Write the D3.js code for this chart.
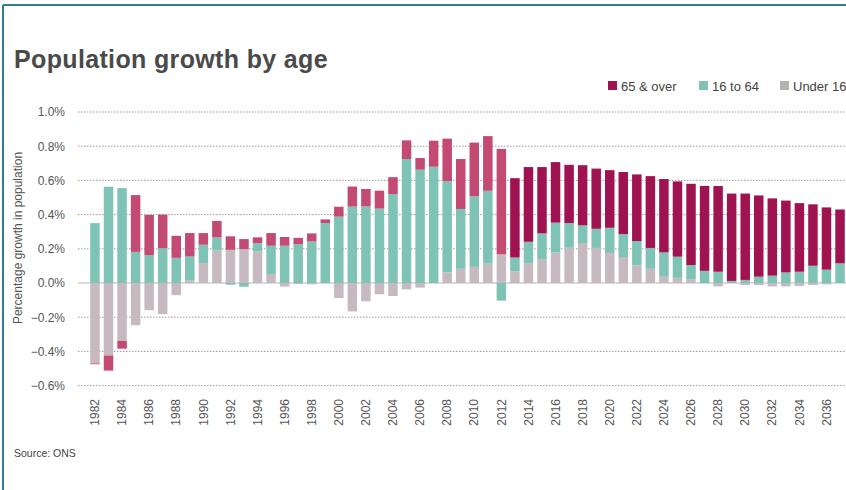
<!DOCTYPE html>
<html>
<head>
<meta charset="utf-8">
<script src="https://cdn.jsdelivr.net/npm/d3@7/dist/d3.min.js"></script>
<style>
  html, body { margin: 0; padding: 0; background: #fff; }
  svg { display: block; font-family: "Liberation Sans", Arial, sans-serif; }
</style>
</head>
<body>
<svg id="chart" width="846" height="490"></svg>
<script>
// Annual population growth (%) by age group, 1982–2037 (2013 onward projected)
const years = d3.range(1982, 2038);
const under16 = [
  -0.47, -0.424, -0.339, -0.247, -0.159, -0.182, -0.071, 0.015, 0.116, 0.19,
  0.194, 0.198, 0.184, 0.053, -0.021, -0.006, -0.008, 0, -0.088, -0.166,
  -0.107, -0.066, -0.076, -0.037, -0.027, 0, 0.062, 0.083, 0.094, 0.113,
  0.168, 0.068, 0.116, 0.14, 0.178, 0.206, 0.234, 0.205, 0.176, 0.152,
  0.103, 0.083, 0.037, 0.03, 0.02, 0, -0.02, 0, -0.012, -0.012,
  -0.02, -0.02, -0.018, -0.012, -0.008, 0
];
const age16to64 = [
  0.35, 0.563, 0.555, 0.182, 0.163, 0.204, 0.147, 0.14, 0.108, 0.077,
  -0.01, -0.022, 0.049, 0.165, 0.218, 0.227, 0.244, 0.351, 0.388, 0.447,
  0.448, 0.435, 0.52, 0.725, 0.663, 0.68, 0.533, 0.35, 0.413, 0.426,
  -0.103, 0.081, 0.125, 0.15, 0.175, 0.145, 0.103, 0.112, 0.147, 0.134,
  0.142, 0.122, 0.142, 0.124, 0.085, 0.071, 0.066, 0.012, 0.018, 0.037,
  0.043, 0.062, 0.066, 0.101, 0.078, 0.115
];
const over65 = [
  -0.005, -0.088, -0.045, 0.332, 0.235, 0.196, 0.129, 0.137, 0.068, 0.096,
  0.079, 0.059, 0.034, 0.074, 0.051, 0.037, 0.046, 0.021, 0.058, 0.117,
  0.102, 0.105, 0.099, 0.109, 0.068, 0.152, 0.249, 0.292, 0.314, 0.32,
  0.616, 0.464, 0.437, 0.388, 0.354, 0.34, 0.352, 0.352, 0.337, 0.363,
  0.39, 0.42, 0.429, 0.44, 0.475, 0.497, 0.501, 0.511, 0.505, 0.475,
  0.452, 0.42, 0.401, 0.359, 0.364, 0.315
];
const firstProjectedYear = 2013;
const yTicks = [-0.6, -0.4, -0.2, 0, 0.2, 0.4, 0.6, 0.8, 1.0];
const xTickYears = d3.range(1982, 2037, 2);

const seriesKeys = ["under16", "age16to64", "over65"];
const legendItems = [
  { key: "over65", label: "65 & over" },
  { key: "age16to64", label: "16 to 64" },
  { key: "under16", label: "Under 16" }
];
const colors = {
  under16: "#c6b9bf",
  age16to64: "#7fc3b6",
  over65: "#c24a73",
  over65Projected: "#9e1350"
};
const legendColors = { over65: "#9e1350", age16to64: "#7fc3b6", under16: "#b3b3b3" };

const rows = years.map((yr, i) => ({
  year: yr, under16: under16[i], age16to64: age16to64[i], over65: over65[i]
}));

const svg = d3.select("#chart");
const W = 846, H = 490;

// frame
svg.append("line").attr("x1", 3).attr("x2", W).attr("y1", 5).attr("y2", 5)
  .attr("stroke", "#2f7d8e").attr("stroke-width", 2);
svg.append("line").attr("x1", 3).attr("x2", 3).attr("y1", 5).attr("y2", H)
  .attr("stroke", "#2f7d8e").attr("stroke-width", 2);

// title
svg.append("text").attr("x", 14).attr("y", 68)
  .attr("font-size", 25).attr("font-weight", "bold").attr("fill", "#4a4a4a")
  .attr("letter-spacing", 0.35)
  .text("Population growth by age");

const x = d3.scaleBand().domain(years).range([88.2, 846.8]).paddingInner(0.3).paddingOuter(0.15);
const y = d3.scaleLinear().domain([-0.6, 1.0]).range([385.6, 112]);

// gridlines
const grid = svg.append("g");
grid.selectAll("line").data(yTicks).join("line")
  .attr("x1", 78).attr("x2", W)
  .attr("y1", d => y(d)).attr("y2", d => y(d))
  .attr("stroke", d => d === 0 ? "#b5b5b5" : "#9a9a9a")
  .attr("stroke-width", 1)
  .attr("stroke-dasharray", d => d === 0 ? null : "1.5,1.5");

// y axis labels
const yAxis = d3.axisLeft(y).tickValues(yTicks).tickSize(0).tickPadding(0)
  .tickFormat(d => d3.format(".1f")(d) + "%");
svg.append("g").attr("transform", "translate(65,0)").call(yAxis)
  .call(g => g.select(".domain").remove())
  .call(g => g.selectAll("text").attr("font-size", 12).attr("fill", "#555")
    .attr("font-family", "Liberation Sans, Arial, sans-serif"));

// y axis title
svg.append("text")
  .attr("transform", "translate(22,238) rotate(-90)")
  .attr("text-anchor", "middle").attr("font-size", 12).attr("fill", "#555")
  .text("Percentage growth in population");

// stacked bars
const stack = d3.stack().keys(seriesKeys).offset(d3.stackOffsetDiverging);
const stacked = stack(rows);
svg.append("g").selectAll("g").data(stacked).join("g")
  .each(function (s) {
    d3.select(this).selectAll("rect").data(s).join("rect")
      .attr("x", d => x(d.data.year))
      .attr("width", x.bandwidth())
      .attr("y", d => y(Math.max(d[0], d[1])))
      .attr("height", d => Math.abs(y(d[0]) - y(d[1])))
      .attr("fill", d => s.key === "over65" && d.data.year >= firstProjectedYear
        ? colors.over65Projected : colors[s.key]);
  });

// x axis labels
const xAxis = d3.axisBottom(x).tickValues(xTickYears).tickSize(0).tickPadding(0);
svg.append("g").attr("transform", "translate(0,397)").call(xAxis)
  .call(g => g.select(".domain").remove())
  .call(g => g.selectAll("text")
    .attr("font-size", 12).attr("fill", "#555")
    .attr("font-family", "Liberation Sans, Arial, sans-serif")
    .attr("text-anchor", "end").attr("dy", "0.35em")
    .attr("transform", "rotate(-90)").attr("x", -2).attr("y", 0));

// legend
const legend = svg.append("g");
const legendX = [608, 699, 780];
legendItems.forEach((item, i) => {
  legend.append("rect").attr("x", legendX[i]).attr("y", 81).attr("width", 9).attr("height", 9)
    .attr("fill", legendColors[item.key]);
  legend.append("text").attr("x", legendX[i] + 13).attr("y", 90.5)
    .attr("font-size", 13).attr("fill", "#444").text(item.label);
});

// source note
svg.append("text").attr("x", 14).attr("y", 457)
  .attr("font-size", 10.5).attr("fill", "#444").text("Source: ONS");
</script>
</body>
</html>
